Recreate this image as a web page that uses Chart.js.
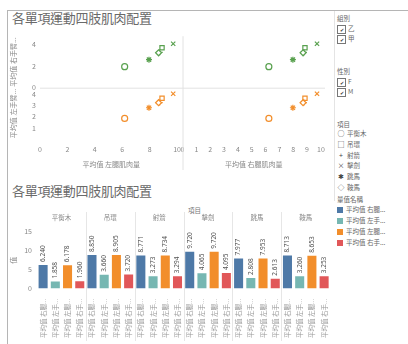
<!DOCTYPE html>
<html>
<head>
<meta charset="utf-8">
<script src="https://cdn.jsdelivr.net/npm/chart.js@4.4.1/dist/chart.umd.min.js"></script>
<style>
  body { margin: 0; width: 408px; height: 344px; overflow: hidden; background: #fff; position: relative;
         font-family: "Noto Sans CJK TC", "Noto Sans", sans-serif; }
  .frame { position: absolute; left: 7px; top: 10px; right: 0; bottom: 0; border-left: 1px solid #b5b5b5; border-top: 1px solid #b5b5b5; }
  .sep { position: absolute; left: 334px; top: 11px; width: 1px; height: 190px; background: #e4e4e4; }
  .title { position: absolute; left: 12px; font-size: 13px; color: #6a6a6a; letter-spacing: -0.3px; }
  #scatterBox { position: absolute; left: 8px; top: 28px; width: 326px; height: 142px; }
  #barBox { position: absolute; left: 8px; top: 203px; width: 326px; height: 138px; }
  .side { position: absolute; left: 337px; top: 0; width: 71px; height: 344px; font-size: 6.5px; color: #666; }
  .side div { position: absolute; left: 0; white-space: nowrap; }
  .chk { display: inline-block; width: 7px; height: 7px; border: 1px solid #777; font-size: 5px; line-height: 7px;
         text-align: center; vertical-align: middle; margin-right: 2px; color: #333; }
  .mk { display: inline-block; width: 8px; text-align: center; font-size: 7px; color: #444; margin-right: 2px; }
  .sw { display: inline-block; width: 6px; height: 6px; vertical-align: middle; margin-right: 3px; }
  .hdr { position: absolute; left: 188px; top: 205px; font-size: 6.5px; color: #777; }
</style>
</head>
<body>
<div class="frame"></div>
<div class="sep"></div>
<div class="title" style="top:8px">各單項運動四肢肌肉配置</div>
<div id="scatterBox"><canvas id="scatterChart"></canvas></div>
<div class="title" style="top:181px">各單項運動四肢肌肉配置</div>
<div class="hdr">項目</div>
<div id="barBox"><canvas id="barChart"></canvas></div>
<div class="side" id="side"></div>

<script>
// 項目 (sports) and measures
const sports = ['平衡木', '吊環', '射箭', '擊劍', '跳馬', '鞍馬'];
const measures = ['平均值 右腿肌肉量', '平均值 左手肌肉量', '平均值 左腿肌肉量', '平均值 右手肌肉量'];
const groups = ['乙', '甲'];
const sexes = ['F', 'M'];

// values per sport, same order as sports
const rightLeg = [6.240, 8.850, 8.771, 9.720, 7.977, 8.713];
const leftArm = [1.858, 3.660, 3.273, 4.065, 2.808, 3.260];
const leftLeg = [6.178, 8.905, 8.734, 9.720, 7.953, 8.653];
const rightArm = [1.960, 3.720, 3.294, 4.095, 2.613, 3.253];

// tick labels
const topArmTicks = [0, 2, 4];
const bottomArmTicks = [1, 2, 3, 4];
const leftLegTicks = [0, 2, 4, 6, 8, 10];
const rightLegTicks = [0, 1, 2, 3, 4, 5, 6, 7, 8, 9, 10];
const barTicks = [0, 5, 10, 15];

const measureColors = ['#4e79a7', '#76b7b2', '#f28e2b', '#e15759'];
const sportMarks = ['circle', 'rect', 'cross', 'crossRot', 'star', 'rectRot'];
const sportGlyphs = ['○', '□', '+', '×', '✱', '◇'];
const green = '#59a14f';
const orange = '#f28e2b';

Chart.defaults.font.family = '"Noto Sans CJK TC", "Noto Sans", sans-serif';
Chart.defaults.font.size = 7;
Chart.defaults.color = '#888';

// ---- side panel (filters + legends) ----
const side = document.getElementById('side');
let html = '<div style="top:13px">組別</div>';
groups.forEach((g, i) => {
  html += `<div style="top:${23 + i * 10}px"><span class="chk">✔</span>${g}</div>`;
});
html += '<div style="top:66px">性別</div>';
sexes.forEach((s, i) => {
  html += `<div style="top:${76 + i * 10}px"><span class="chk">✔</span>${s}</div>`;
});
html += '<div style="top:119px">項目</div>';
sports.forEach((s, i) => {
  html += `<div style="top:${128 + i * 10.8}px"><span class="mk">${sportGlyphs[i]}</span>${s}</div>`;
});
html += '<div style="top:194px">量值名稱</div>';
measures.forEach((m, i) => {
  html += `<div style="top:${204 + i * 11}px"><span class="sw" style="background:${measureColors[i]}"></span>${m.slice(0, 6)}...</div>`;
});
side.innerHTML = html;

// ---- scatter matrix ----
const pts = (xs, ys) => xs.map((x, i) => ({ x: x, y: ys[i] }));
const scatterSet = (xs, ys, xId, yId, color) => ({
  data: pts(xs, ys),
  xAxisID: xId,
  yAxisID: yId,
  pointStyle: sportMarks,
  pointRadius: 3,
  borderWidth: 1.2,
  borderColor: color,
  backgroundColor: '#fff'
});

const quadLines = {
  id: 'quadLines',
  afterDraw(chart) {
    const { ctx, chartArea, scales } = chart;
    ctx.save();
    ctx.strokeStyle = '#e2e2e2';
    ctx.lineWidth = 1;
    ctx.beginPath();
    ctx.moveTo(scales.xL.right + 0.5, chartArea.top);
    ctx.lineTo(scales.xL.right + 0.5, scales.xL.bottom);
    ctx.moveTo(chartArea.left, scales.yT.bottom + 0.5);
    ctx.lineTo(chartArea.right, scales.yT.bottom + 0.5);
    ctx.stroke();
    ctx.restore();
  }
};

const axisTitle = (text) => ({ display: true, text: text, color: '#888', font: { size: 7 }, padding: 1 });
const fixedTicks = (values) => (scale) => {
  scale.ticks = values.map((v) => ({ value: v }));
};
const linearAxis = (position, stack, max, values, title) => ({
  type: 'linear', position: position, stack: stack, stackWeight: 1,
  min: 0, max: max, afterBuildTicks: fixedTicks(values),
  afterFit: position === 'left' ? (s) => { s.width = 32; } : undefined,
  ticks: { padding: position === 'left' ? 4 : 6, autoSkip: false, maxRotation: 0, minRotation: 0 },
  grid: { display: false, drawTicks: false }, border: { display: false },
  title: axisTitle(title)
});

new Chart(document.getElementById('scatterChart'), {
  type: 'scatter',
  data: {
    datasets: [
      scatterSet(leftLeg, rightArm, 'xL', 'yT', green),
      scatterSet(rightLeg, rightArm, 'xR', 'yT', green),
      scatterSet(leftLeg, leftArm, 'xL', 'yB', orange),
      scatterSet(rightLeg, leftArm, 'xR', 'yB', orange)
    ]
  },
  options: {
    responsive: true,
    maintainAspectRatio: false,
    animation: false,
    layout: { padding: { top: 0, right: 2, bottom: 0, left: 0 } },
    plugins: { legend: { display: false }, tooltip: { enabled: false } },
    scales: {
      yB: linearAxis('left', 'rows', 4.6, bottomArmTicks, '平均值 左手臂...'),
      yT: linearAxis('left', 'rows', 4.8, topArmTicks, '平均值 右手臂...'),
      xL: linearAxis('bottom', 'cols', 10.4, leftLegTicks, '平均值 左腿肌肉量'),
      xR: linearAxis('bottom', 'cols', 10.3, rightLegTicks, '平均值 右腿肌肉量')
    }
  },
  plugins: [quadLines]
});

// ---- bar chart ----
const measureSeries = [rightLeg, leftArm, leftLeg, rightArm];
const barLabels = [];
const barValues = [];
const barColors = [];
sports.forEach((s, i) => {
  measureSeries.forEach((series, j) => {
    barLabels.push(measures[j]);
    barValues.push(series[i]);
    barColors.push(measureColors[j]);
  });
});

const valueLabels = {
  id: 'valueLabels',
  afterDatasetsDraw(chart) {
    const ctx = chart.ctx;
    const meta = chart.getDatasetMeta(0);
    ctx.save();
    ctx.font = '6.5px "Noto Sans", sans-serif';
    ctx.fillStyle = '#555';
    ctx.textBaseline = 'middle';
    ctx.textAlign = 'left';
    meta.data.forEach((bar, i) => {
      ctx.save();
      ctx.translate(bar.x, bar.y - 3);
      ctx.rotate(-Math.PI / 2);
      ctx.fillText(barValues[i].toFixed(3), 0, 0);
      ctx.restore();
    });
    ctx.restore();
  }
};

// light lines between sport groups, from the header down through the labels
const groupLines = {
  id: 'groupLines',
  beforeDatasetsDraw(chart) {
    const { ctx, scales } = chart;
    const x = scales.x;
    const n = measures.length;
    ctx.save();
    ctx.strokeStyle = '#e6e6e6';
    ctx.lineWidth = 1;
    ctx.beginPath();
    for (let k = 1; k < sports.length; k++) {
      const px = Math.round((x.getPixelForValue(k * n - 1) + x.getPixelForValue(k * n)) / 2) + 0.5;
      ctx.moveTo(px, scales.x2.top);
      ctx.lineTo(px, chart.height);
    }
    ctx.stroke();
    ctx.restore();
  }
};

new Chart(document.getElementById('barChart'), {
  type: 'bar',
  data: {
    labels: barLabels,
    datasets: [{
      data: barValues,
      backgroundColor: barColors,
      categoryPercentage: 0.74,
      barPercentage: 1
    }]
  },
  options: {
    responsive: true,
    maintainAspectRatio: false,
    animation: false,
    layout: { padding: { top: 9, right: 2, bottom: 1, left: 0 } },
    plugins: { legend: { display: false }, tooltip: { enabled: false } },
    scales: {
      x: {
        type: 'category', position: 'bottom',
        ticks: {
          minRotation: 90, maxRotation: 90, autoSkip: false, padding: 2,
          font: { size: 6.5 }, color: '#999',
          callback: function (v) { return this.getLabelForValue(v).slice(0, 6) + '...'; }
        },
        grid: { display: false },
        border: { display: false }
      },
      x2: {
        type: 'category', position: 'top', labels: sports, offset: true,
        ticks: { color: '#888', font: { size: 6.5 }, padding: 2 },
        grid: { display: false },
        border: { display: false }
      },
      y: {
        min: 0, max: 15, afterBuildTicks: fixedTicks(barTicks),
        afterFit: (s) => { s.width = 29; },
        ticks: { padding: 5 },
        grid: { display: false, drawTicks: false }, border: { display: false },
        title: axisTitle('值')
      }
    }
  },
  plugins: [valueLabels, groupLines]
});
</script>
</body>
</html>
